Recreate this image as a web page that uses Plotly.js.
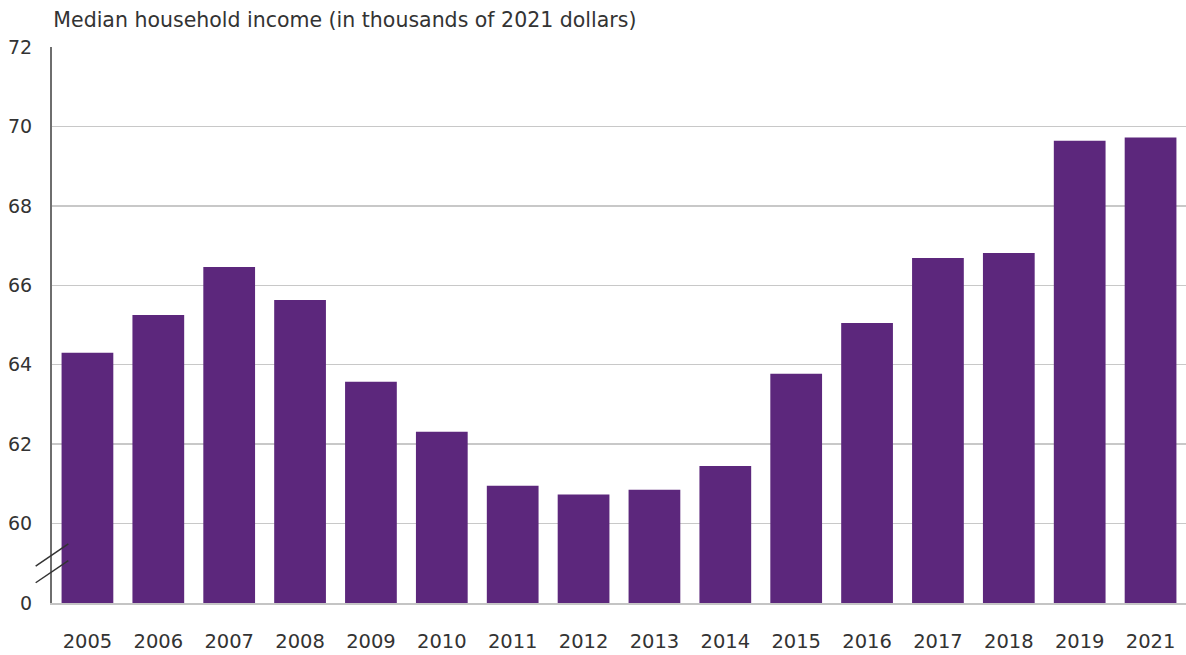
<!DOCTYPE html>
<html>
<head>
<meta charset="utf-8">
<script src="https://cdn.plot.ly/plotly-3.0.1.min.js"></script>
<style>html,body{margin:0;padding:0;background:#fff;}#chart{width:1186px;height:655px;}</style>
</head>
<body>
<div id="chart"></div>
<script>
const years = ['2005','2006','2007','2008','2009','2010','2011','2012','2013','2014','2015','2016','2017','2018','2019','2021'];
const income = [64.30, 65.25, 66.46, 65.63, 63.57, 62.31, 60.95, 60.73, 60.85, 61.45, 63.77, 65.05, 66.69, 66.81, 69.64, 69.72];
const yTickVals = [58, 60, 62, 64, 66, 68, 70, 72];
const yTickText = ['0', '60', '62', '64', '66', '68', '70', '72'];
const axisBase = 58;
const chartTitle = 'Median household income (in thousands of 2021 dollars)';

const trace = {
  type: 'bar',
  x: years,
  y: income.map(v => v - axisBase),
  base: axisBase,
  marker: {color: '#5c277c'},
  hoverinfo: 'x+y'
};

const fam = '"DejaVu Sans", "Noto Sans", sans-serif';
const font = {family: fam, size: 18, color: '#333'};

const layout = {
  width: 1186, height: 655,
  margin: {l: 52, r: 0, t: 47, b: 52},
  paper_bgcolor: '#fff', plot_bgcolor: '#fff',
  font: font,
  bargap: 0.27,
  showlegend: false,
  title: {
    text: chartTitle,
    font: {family: fam, size: 20.5, color: '#333'},
    x: 0.045, xref: 'container', xanchor: 'left',
    y: 1 - 20/655, yref: 'container', yanchor: 'middle'
  },
  xaxis: {
    type: 'category',
    showgrid: false,
    showline: true, linecolor: '#c4c4c4', linewidth: 1.5,
    ticks: 'outside', ticklen: 20, tickcolor: 'rgba(0,0,0,0)',
    tickfont: {family: fam, size: 19.5, color: '#333'},
    fixedrange: true
  },
  yaxis: {
    range: [58, 72],
    tickvals: yTickVals, ticktext: yTickText,
    showgrid: true, gridcolor: '#c8c8c8', gridwidth: 1.5,
    zeroline: false,
    showline: true, linecolor: '#6e6e6e', linewidth: 2,
    ticks: 'outside', ticklen: 14, tickcolor: 'rgba(0,0,0,0)',
    tickfont: {family: fam, size: 19, color: '#333'},
    fixedrange: true
  },
  shapes: [
    {type: 'line', xref: 'paper', yref: 'y', x0: -0.0144, y0: 58.93, x1: 0.0144, y1: 59.49, line: {color: '#333', width: 1.5}},
    {type: 'line', xref: 'paper', yref: 'y', x0: -0.0144, y0: 58.51, x1: 0.0144, y1: 59.07, line: {color: '#333', width: 1.5}}
  ]
};

Plotly.newPlot('chart', [trace], layout, {displayModeBar: false, staticPlot: true});
</script>
</body>
</html>
